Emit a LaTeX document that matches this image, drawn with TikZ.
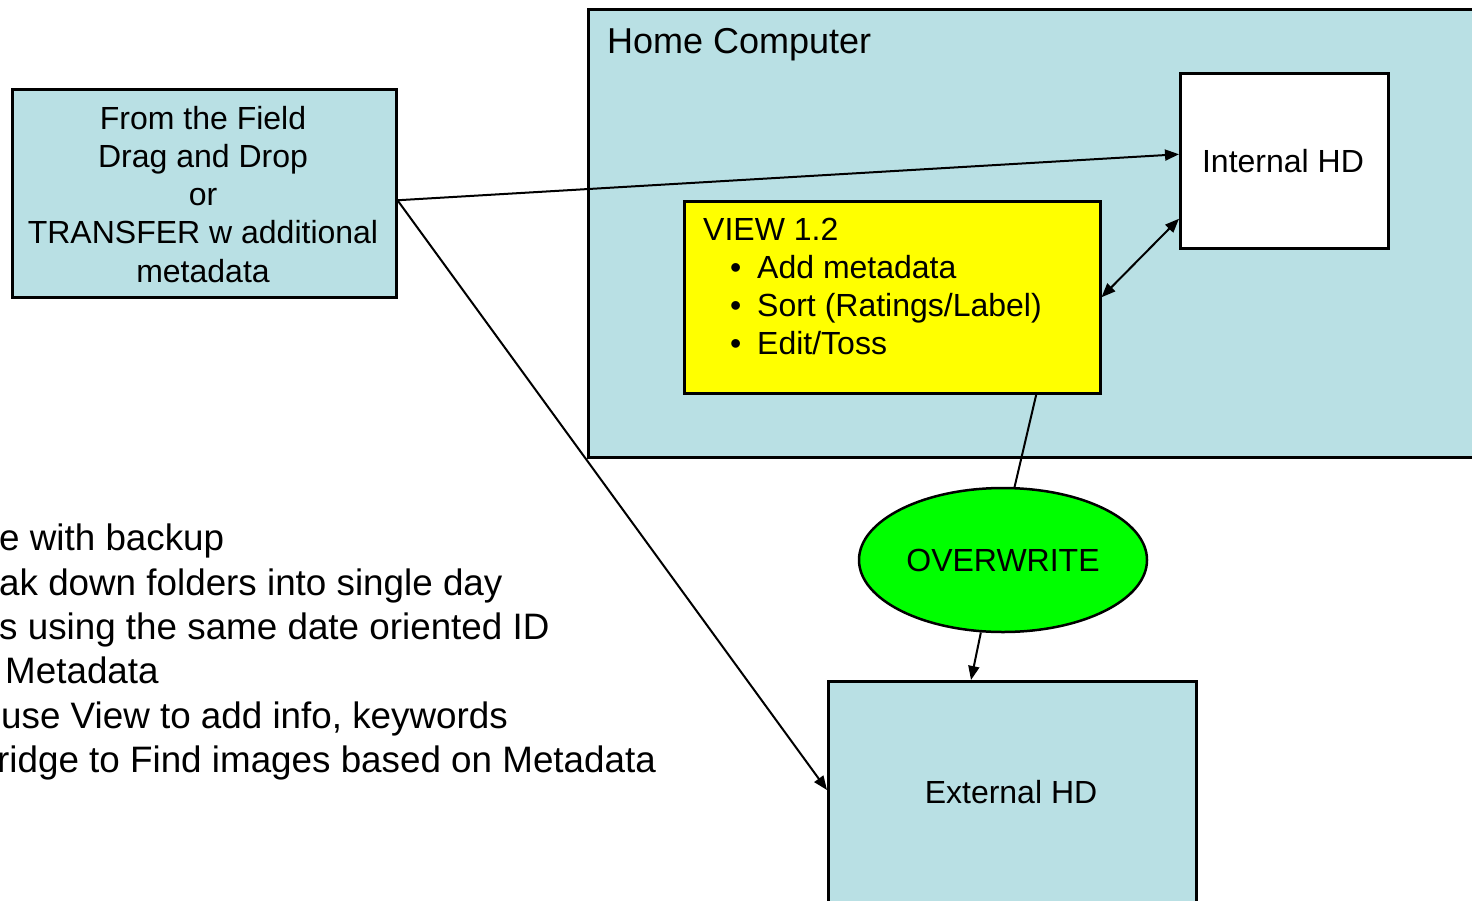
\documentclass[tikz,border=0pt]{standalone}
\usepackage{fontspec}
\setmainfont{Liberation Sans}
\usetikzlibrary{arrows.meta,shapes.geometric}
\definecolor{boxblue}{RGB}{185,224,228}
\definecolor{vyellow}{RGB}{255,255,0}
\definecolor{ogreen}{RGB}{0,255,0}
\newcommand\fbody{\fontsize{32}{38.3}\selectfont}
\newcommand\ftitle{\fontsize{36}{43}\selectfont}
\newcommand\fleft{\fontsize{36.8}{44.4}\selectfont}
\begin{document}
\begin{tikzpicture}[x=1pt,y=-1pt,
  boxstyle/.style={draw=black,line width=2.5pt,inner sep=0pt,anchor=north west},
  txt/.style={inner sep=0pt},
  conn/.style={draw=black,line width=2pt},
  arr/.style={conn,-{Triangle[length=14pt,width=11pt]}},
  darr/.style={conn,{Triangle[length=14pt,width=11pt]}-{Triangle[length=14pt,width=11pt]}}]
\useasboundingbox (0,0) rectangle (1472,900);
\clip (0,0) rectangle (1472,900);

% containers and boxes
\node[boxstyle,fill=boxblue,minimum width=950pt,minimum height=448pt] (home) at (587,8) {};
\node[txt,anchor=base west,font=\ftitle] (hometxt) at (607,53) {Home Computer};

\node[boxstyle,fill=white,minimum width=208pt,minimum height=175pt] (ihd) at (1179,72) {};
\node[txt,anchor=base,font=\fbody] (ihdtxt) at (1283,172) {Internal HD};

\node[boxstyle,fill=vyellow,minimum width=416pt,minimum height=192pt] (view) at (683,200) {};
\node[txt,anchor=base west,font=\fbody] (viewtxt) at (703,240) {\begin{tabular}[t]{@{}l@{}}VIEW 1.2\\
\hspace*{27pt}\makebox[27pt][l]{•}Add metadata\\
\hspace*{27pt}\makebox[27pt][l]{•}Sort (Ratings/Label)\\
\hspace*{27pt}\makebox[27pt][l]{•}Edit/Toss\end{tabular}};

\node[boxstyle,fill=boxblue,minimum width=384pt,minimum height=208pt] (from) at (11,88) {};
\node[txt,anchor=base,font=\fbody] (fromtxt) at (203,129) {\begin{tabular}[t]{@{}c@{}}From the Field\\Drag and Drop\\or\\TRANSFER w additional\\metadata\end{tabular}};

\node[draw=black,line width=2.5pt,fill=ogreen,ellipse,minimum width=288pt,minimum height=144pt,inner sep=0pt] (ow) at (1003,560) {};
\node[txt,anchor=base,font=\fbody] (owtxt) at (1003,571) {OVERWRITE};

\node[boxstyle,fill=boxblue,minimum width=368pt,minimum height=300pt] (ext) at (827,680) {};
\node[txt,anchor=base,font=\fbody] (exttxt) at (1011,803) {External HD};

% left text (cut off at the left edge)
\node[txt,anchor=base west,font=\fleft] (l1) at (-1,550) {e with backup};
\node[txt,anchor=base west,font=\fleft] (l2) at (-1,595) {ak down folders into single day};
\node[txt,anchor=base west,font=\fleft] (l3) at (-1,639) {s using the same date oriented ID};
\node[txt,anchor=base west,font=\fleft] (l4) at (5,683) {Metadata};
\node[txt,anchor=base west,font=\fleft] (l5) at (1,728) {use View to add info, keywords};
\node[txt,anchor=base west,font=\fleft] (l6) at (-3,772) {ridge to Find images based on Metadata};

% connectors
\draw[arr] ([yshift=-7pt]from.east) -- ([yshift=6.5pt]ihd.west);
\draw[arr] ([yshift=-7pt]from.east) -- ([yshift=-110pt]ext.north west);
\draw[darr] (view.east) -- ([yshift=-58pt]ihd.west);
\draw[conn] ([xshift=144pt]view.south) -- (ow.81);
\draw[arr] (ow.-107) -- ([xshift=144pt]ext.north west);
\end{tikzpicture}
\end{document}
